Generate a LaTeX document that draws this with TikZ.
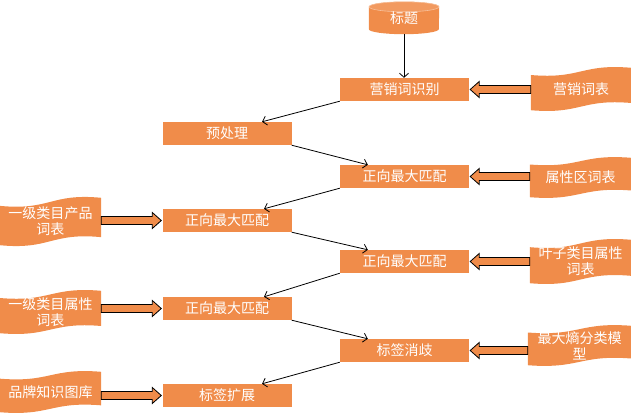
\documentclass[tikz,border=0pt]{standalone}
\usepackage{fontspec}
\setmainfont{Noto Sans CJK SC}
\usetikzlibrary{arrows.meta,calc}
\definecolor{ofill}{RGB}{240,140,74}
\pgfdeclarelayer{background}
\pgfsetlayers{background,main}
\newcommand\tapefill[1]{%
\begin{pgfonlayer}{background}
\fill[ofill] let \p1=(#1.north west), \p2=(#1.south east), \p3=($(#1.north west)!0.5!(#1.north east)$), \n3={0.17*(\y1-\y2)} in
 (\x1,\y1-\n3) .. controls (\x3,\y1-1.6*\n3) and (\x3,\y1+0.6*\n3) .. (\x2,\y1)
 -- (\x2,\y2+\n3) .. controls (\x3,\y2+1.6*\n3) and (\x3,\y2-0.6*\n3) .. (\x1,\y2) -- cycle;
\end{pgfonlayer}}
\newcommand\cylfill[1]{%
\begin{pgfonlayer}{background}
\fill[ofill] let \p1=(#1.north west), \p2=(#1.south east) in
 (\x1,\y1-5pt) -- (\x1,\y2+5pt) arc[start angle=180,end angle=360,x radius=35pt,y radius=5pt] -- (\x2,\y1-5pt) arc[start angle=0,end angle=180,x radius=35pt,y radius=5pt] -- cycle;
\filldraw[fill=ofill!88!white, draw=ofill!55!white, line width=0.6pt] let \p1=(#1.north) in (\x1,\y1-5pt) ellipse[x radius=35pt,y radius=5pt];
\end{pgfonlayer}}
\newcommand\barrow[3]{%
\draw[barr] let \p1=(#1), \p2=(#2) in (\x1,\y2+4pt) -- (\x2-#3pt,\y2+4pt) -- (\x2-#3pt,\y2+8pt) -- (\x2,\y2) -- (\x2-#3pt,\y2-8pt) -- (\x2-#3pt,\y2-4pt) -- (\x1,\y2-4pt) -- cycle;}
\begin{document}
\begin{tikzpicture}[x=1pt,y=-1pt,
  box/.style={fill=ofill, text=white, minimum width=129pt, minimum height=23pt, inner sep=0pt, font=\fontsize{14}{16}\selectfont},
  doc/.style={text=white, inner sep=0pt, align=center, font=\fontsize{14}{16}\selectfont},
  cyl/.style={text=white, inner sep=0pt, minimum width=70pt, minimum height=32pt, font=\fontsize{14}{16}\selectfont},
  conn/.style={-{Straight Barb[length=4pt,width=9pt]}, line width=0.8pt},
  barr/.style={fill=ofill, draw=black, line width=0.8pt}]
\useasboundingbox (0,0) rectangle (631,415);
% title cylinder
\node[cyl] (title) at (404,18) {\raisebox{-3pt}{标题}};
\cylfill{title}
% process boxes
\node[box] (mkt) at (404.5,89.5) {营销词识别};
\node[box] (pre) at (227,133.5) {预处理};
\node[box] (z1) at (404.5,176.5) {正向最大匹配};
\node[box] (z2) at (227,220.5) {正向最大匹配};
\node[box] (z3) at (404.5,261.5) {正向最大匹配};
\node[box] (z4) at (227,308.5) {正向最大匹配};
\node[box] (dis) at (404.5,350.5) {标签消歧};
\node[box] (ext) at (227,395.5) {标签扩展};
% documents
\node[doc, minimum width=100pt, minimum height=42pt] (mktdoc) at (581,89) {营销词表};
\node[doc, minimum width=101pt, minimum height=39pt] (attrdoc) at (580.5,177.5) {属性区词表};
\node[doc, minimum width=101pt, minimum height=43pt] (leafdoc) at (580.5,261.5) {叶子类目属性\\词表};
\node[doc, minimum width=103pt, minimum height=39pt] (modeldoc) at (579.5,345.5) {最大熵分类模\\型};
\node[doc, minimum width=101pt, minimum height=47pt] (prod1doc) at (50.5,221.5) {一级类目产品\\词表};
\node[doc, minimum width=101pt, minimum height=42pt] (attr1doc) at (50.5,312) {一级类目属性\\词表};
\node[doc, minimum width=101pt, minimum height=40pt] (branddoc) at (50.5,392) {品牌知识图库};
\tapefill{mktdoc}
\tapefill{attrdoc}
\tapefill{leafdoc}
\tapefill{modeldoc}
\tapefill{prod1doc}
\tapefill{attr1doc}
\tapefill{branddoc}
% thin connectors
\draw[conn] (title.south) -- (title.south |- mkt.north);
\draw[conn] (mkt.south west) -- ($(pre.north)+(35,0)$);
\draw[conn] (pre.south east) -- ($(z1.north west)+(28,0)$);
\draw[conn] (z1.south west) -- ($(z2.north)+(37,0)$);
\draw[conn] (z2.south east) -- ($(z3.north west)+(28,0)$);
\draw[conn] (z3.south west) -- ($(z4.north)+(37,0)$);
\draw[conn] (z4.south east) -- ($(dis.north west)+(28,0)$);
\draw[conn] (dis.south west) -- ($(ext.north)+(35,0)$);
% block arrows
\barrow{mktdoc.west}{$(mkt.east)+(1,0)$}{-9}
\barrow{attrdoc.west}{$(z1.east)+(1,0)$}{-9}
\barrow{leafdoc.west}{$(z3.east)+(1,0)$}{-9}
\barrow{modeldoc.west}{$(dis.east)+(1,0)$}{-9}
\barrow{prod1doc.east}{$(z2.west)+(-1,0)$}{9}
\barrow{attr1doc.east}{$(z4.west)+(-1,0)$}{9}
\barrow{branddoc.east}{$(ext.west)+(-1,0)$}{9}
\end{tikzpicture}
\end{document}
